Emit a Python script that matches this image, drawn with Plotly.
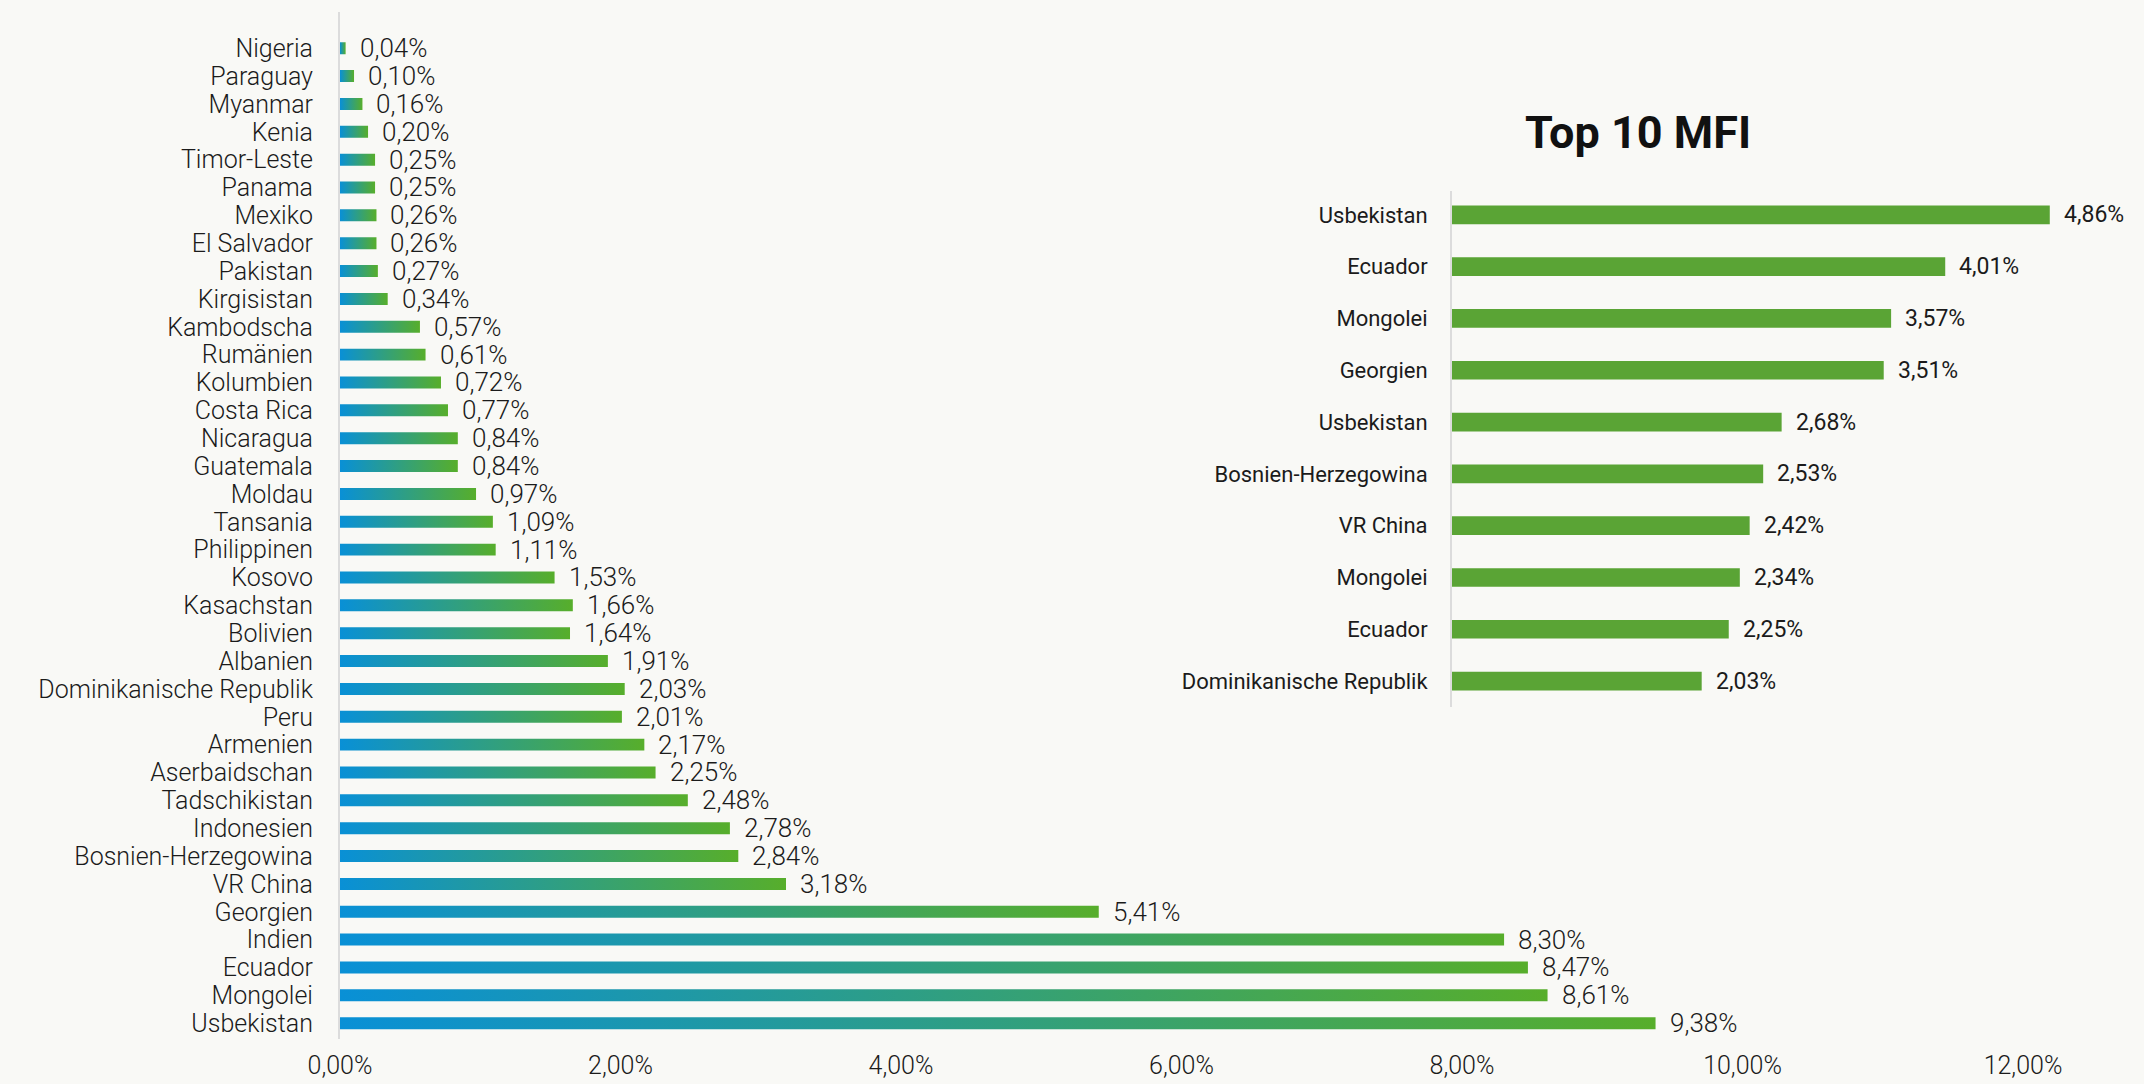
import plotly.graph_objects as go

# ---------------- data ----------------
countries = ["Nigeria", "Paraguay", "Myanmar", "Kenia", "Timor-Leste", "Panama", "Mexiko",
             "El Salvador", "Pakistan", "Kirgisistan", "Kambodscha", "Rumänien", "Kolumbien",
             "Costa Rica", "Nicaragua", "Guatemala", "Moldau", "Tansania", "Philippinen",
             "Kosovo", "Kasachstan", "Bolivien", "Albanien", "Dominikanische Republik", "Peru",
             "Armenien", "Aserbaidschan", "Tadschikistan", "Indonesien", "Bosnien-Herzegowina",
             "VR China", "Georgien", "Indien", "Ecuador", "Mongolei", "Usbekistan"]
shares = [0.04, 0.10, 0.16, 0.20, 0.25, 0.25, 0.26, 0.26, 0.27, 0.34, 0.57, 0.61, 0.72,
          0.77, 0.84, 0.84, 0.97, 1.09, 1.11, 1.53, 1.66, 1.64, 1.91, 2.03, 2.01, 2.17,
          2.25, 2.48, 2.78, 2.84, 3.18, 5.41, 8.30, 8.47, 8.61, 9.38]

top_names = ["Usbekistan", "Ecuador", "Mongolei", "Georgien", "Usbekistan",
             "Bosnien-Herzegowina", "VR China", "Mongolei", "Ecuador", "Dominikanische Republik"]
top_values = [4.86, 4.01, 3.57, 3.51, 2.68, 2.53, 2.42, 2.34, 2.25, 2.03]

x_ticks = [0, 2, 4, 6, 8, 10, 12]
inset_title = "Top 10 MFI"

# ---------------- style ----------------
W, H = 2144, 1084
BG = "#f9f9f6"
TXT = "#1b1b1b"
FONT = "Roboto"
BLUE, GREEN = "#0990d6", "#57ae2b"
INSET_GREEN = "#5aa435"
AXIS_LINE = "#dcdcdc"


def fmt(v):
    return f"{v:.2f}".replace(".", ",") + "%"


fig = go.Figure()

# main chart: bottom row = last country
n = len(countries)
ys = [n - 1 - k for k in range(n)]
half = 0.215
for k, (name, v) in enumerate(zip(countries, shares)):
    y = ys[k]
    fig.add_trace(go.Scatter(
        x=[0, v, v, 0, 0],
        y=[y - half, y - half, y + half, y + half, y - half],
        mode="lines", fill="toself",
        line=dict(width=0, color="rgba(0,0,0,0)"),
        fillgradient=dict(type="horizontal", colorscale=[[0, BLUE], [1, GREEN]]),
        hoverinfo="skip", showlegend=False,
        xaxis="x", yaxis="y",
    ))
    fig.add_annotation(x=v, y=y, xref="x", yref="y", text=fmt(v), showarrow=False,
                       xanchor="left", yanchor="middle", xshift=12,
                       font=dict(family=FONT, size=26, color=TXT, weight=300))

# inset chart
m = len(top_names)
tys = [m - 1 - k for k in range(m)]
fig.add_trace(go.Bar(
    x=top_values, y=tys, orientation="h", width=0.36,
    marker=dict(color=INSET_GREEN, line=dict(width=0)),
    xaxis="x2", yaxis="y2", showlegend=False, hoverinfo="skip",
))
for v, y in zip(top_values, tys):
    fig.add_annotation(x=v, y=y, xref="x2", yref="y2", text=fmt(v), showarrow=False,
                       xanchor="left", yanchor="middle", xshift=12,
                       font=dict(family=FONT, size=23, color=TXT, weight=400))

fig.add_annotation(x=1638 / W, y=1 - 132 / H, xref="paper", yref="paper",
                   text="<b>" + inset_title + "</b>", showarrow=False,
                   xanchor="center", yanchor="middle",
                   font=dict(family=FONT, size=45, color="#111111"))

fig.update_layout(
    width=W, height=H,
    margin=dict(l=0, r=0, t=0, b=0, autoexpand=False),
    paper_bgcolor=BG, plot_bgcolor=BG,
    separators=",.",
    showlegend=False,
    xaxis=dict(domain=[340 / W, 2023 / W], range=[0, 12], tickvals=x_ticks,
               ticktext=[fmt(t) for t in x_ticks], showgrid=False, zeroline=False,
               showline=False, ticks="outside", ticklen=4, tickcolor="rgba(0,0,0,0)",
               tickfont=dict(family=FONT, size=25, color=TXT, weight=300), anchor="y",
               automargin=False),
    yaxis=dict(domain=[1 - 1038.5 / H, 1 - 12 / H], range=[-0.55, 36.3],
               tickvals=ys, ticktext=countries, showgrid=False, zeroline=False,
               showline=True, linecolor=AXIS_LINE, linewidth=2,
               ticks="outside", ticklen=20, tickcolor="rgba(0,0,0,0)",
               tickfont=dict(family=FONT, size=25, color=TXT, weight=300), anchor="x",
               automargin=False),
    xaxis2=dict(domain=[1452 / W, 1.0], range=[0, 692 / 123.0], visible=False,
                anchor="y2"),
    yaxis2=dict(domain=[1 - 707 / H, 1 - 191 / H], range=[-0.5, 9.46],
                tickvals=tys, ticktext=top_names, showgrid=False, zeroline=False,
                showline=True, linecolor=AXIS_LINE, linewidth=2,
                ticks="outside", ticklen=18, tickcolor="rgba(0,0,0,0)",
                tickfont=dict(family=FONT, size=22, color=TXT, weight=400),
                anchor="x2", automargin=False),
)

fig.write_html("out.html", config={"displayModeBar": False},
               post_script="document.body.style.margin='0';document.body.style.overflow='hidden';")
